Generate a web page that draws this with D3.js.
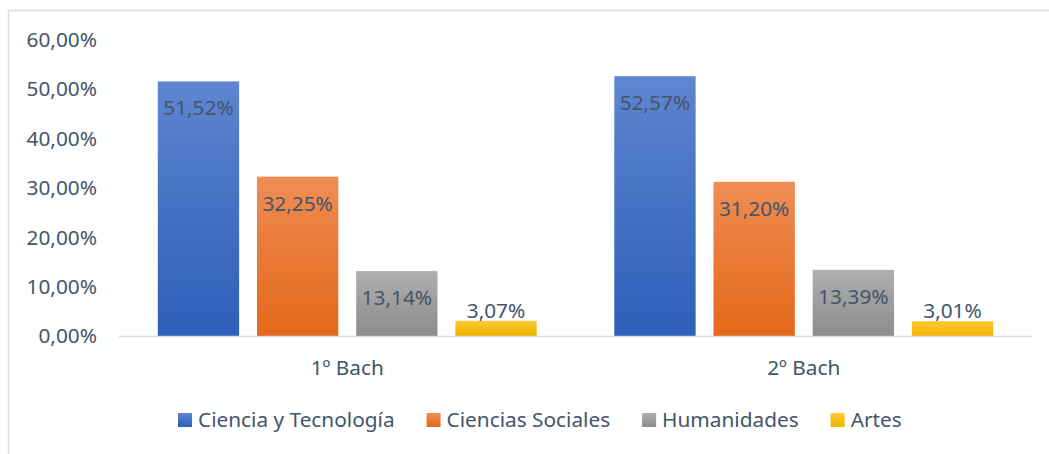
<!DOCTYPE html>
<html>
<head>
<meta charset="utf-8">
<script src="https://cdn.jsdelivr.net/npm/d3@7"></script>
<style>
  body { margin: 0; background: #fff; }
  text { font-family: "Noto Sans", "Open Sans", sans-serif; fill: #44546A; }
</style>
</head>
<body>
<div id="chart"></div>
<script>
var categories = ["1º Bach", "2º Bach"];
var series = ["Ciencia y Tecnología", "Ciencias Sociales", "Humanidades", "Artes"];
var values = {
  "Ciencia y Tecnología": [51.52, 52.57],
  "Ciencias Sociales": [32.25, 31.20],
  "Humanidades": [13.14, 13.39],
  "Artes": [3.07, 3.01]
};
var yTicks = [0, 10, 20, 30, 40, 50, 60];
var colors = {
  "Ciencia y Tecnología": ["#5F86D0", "#2E5FB9"],
  "Ciencias Sociales": ["#F08D55", "#E4691A"],
  "Humanidades": ["#B0B0B0", "#8D8D8D"],
  "Artes": ["#FFCA38", "#EEB400"]
};

var width = 1049, height = 454;
var fontSize = "20.8px";
var fmt = function(v) { return v.toFixed(2).replace(".", ",") + "%"; };

var svg = d3.select("#chart").append("svg")
  .attr("width", width)
  .attr("height", height);

// gradients per serie
var defs = svg.append("defs");
series.forEach(function(s, i) {
  var g = defs.append("linearGradient")
    .attr("id", "grad" + i)
    .attr("x1", 0).attr("y1", 0).attr("x2", 0).attr("y2", 1);
  g.append("stop").attr("offset", "0%").attr("stop-color", colors[s][0]);
  g.append("stop").attr("offset", "50%").attr("stop-color", d3.interpolateRgb(colors[s][0], colors[s][1])(0.55));
  g.append("stop").attr("offset", "100%").attr("stop-color", colors[s][1]);
});

// chart frame
svg.append("path")
  .attr("d", "M8.5,454 L8.5,10.5 L1049,10.5")
  .attr("fill", "none")
  .attr("stroke", "#D9DEE6")
  .attr("stroke-width", 1.5);

var x0 = d3.scaleBand()
  .domain(categories)
  .range([119, 1032])
  .paddingInner(0.17)
  .paddingOuter(0.085);

var x1 = d3.scaleBand()
  .domain(series)
  .range([0, x0.bandwidth()])
  .paddingInner(0.18);

var y = d3.scaleLinear()
  .domain([0, 60])
  .range([336, 39.5]);

// y axis labels
svg.selectAll(".ytick")
  .data(yTicks)
  .enter()
  .append("text")
  .attr("class", "ytick")
  .attr("x", 97)
  .attr("y", function(d) { return y(d); })
  .attr("dy", "0.36em")
  .attr("text-anchor", "end")
  .style("font-size", fontSize)
  .text(function(d) { return fmt(d); });

// bars
var groups = svg.selectAll(".grp")
  .data(categories)
  .enter()
  .append("g")
  .attr("class", "grp")
  .attr("transform", function(d) { return "translate(" + x0(d) + ",0)"; });

var rows = function(c, ci) {
  return series.map(function(s, si) { return { s: s, si: si, v: values[s][ci] }; });
};

groups.selectAll("rect")
  .data(rows)
  .enter()
  .append("rect")
  .attr("x", function(d) { return x1(d.s); })
  .attr("width", x1.bandwidth())
  .attr("y", function(d) { return y(d.v); })
  .attr("height", function(d) { return y(0) - y(d.v); })
  .attr("fill", function(d) { return "url(#grad" + d.si + ")"; });

groups.selectAll(".lbl")
  .data(rows)
  .enter()
  .append("text")
  .attr("class", "lbl")
  .attr("x", function(d) { return x1(d.s) + x1.bandwidth() / 2; })
  .attr("y", function(d) { return Math.min(y(d.v) + 34, y(0) - 18); })
  .attr("text-anchor", "middle")
  .style("font-size", fontSize)
  .text(function(d) { return fmt(d.v); });

// baseline
svg.append("line")
  .attr("x1", 119).attr("x2", 1032)
  .attr("y1", y(0) + 0.5).attr("y2", y(0) + 0.5)
  .attr("stroke", "#D9DEE6")
  .attr("stroke-width", 1.5);

// category labels
svg.selectAll(".cat")
  .data(categories)
  .enter()
  .append("text")
  .attr("class", "cat")
  .attr("x", function(d) { return x0(d) + x0.bandwidth() / 2; })
  .attr("y", 375)
  .attr("text-anchor", "middle")
  .style("font-size", fontSize)
  .text(function(d) { return d; });

// legend
var legend = svg.append("g");
var items = legend.selectAll(".leg")
  .data(series)
  .enter()
  .append("g")
  .attr("class", "leg");

items.append("rect")
  .attr("width", 14)
  .attr("height", 14)
  .attr("y", 413)
  .attr("fill", function(d, i) { return "url(#grad" + i + ")"; });

items.append("text")
  .attr("x", 20)
  .attr("y", 427)
  .style("font-size", fontSize)
  .text(function(d) { return d; });

var pos = 0;
var offsets = [];
items.each(function() {
  var w = d3.select(this).select("text").node().getComputedTextLength() + 20;
  offsets.push(pos);
  pos += w + 32;
});
var start = 178;
items.attr("transform", function(d, i) { return "translate(" + (start + offsets[i]) + ",0)"; });
</script>
</body>
</html>
